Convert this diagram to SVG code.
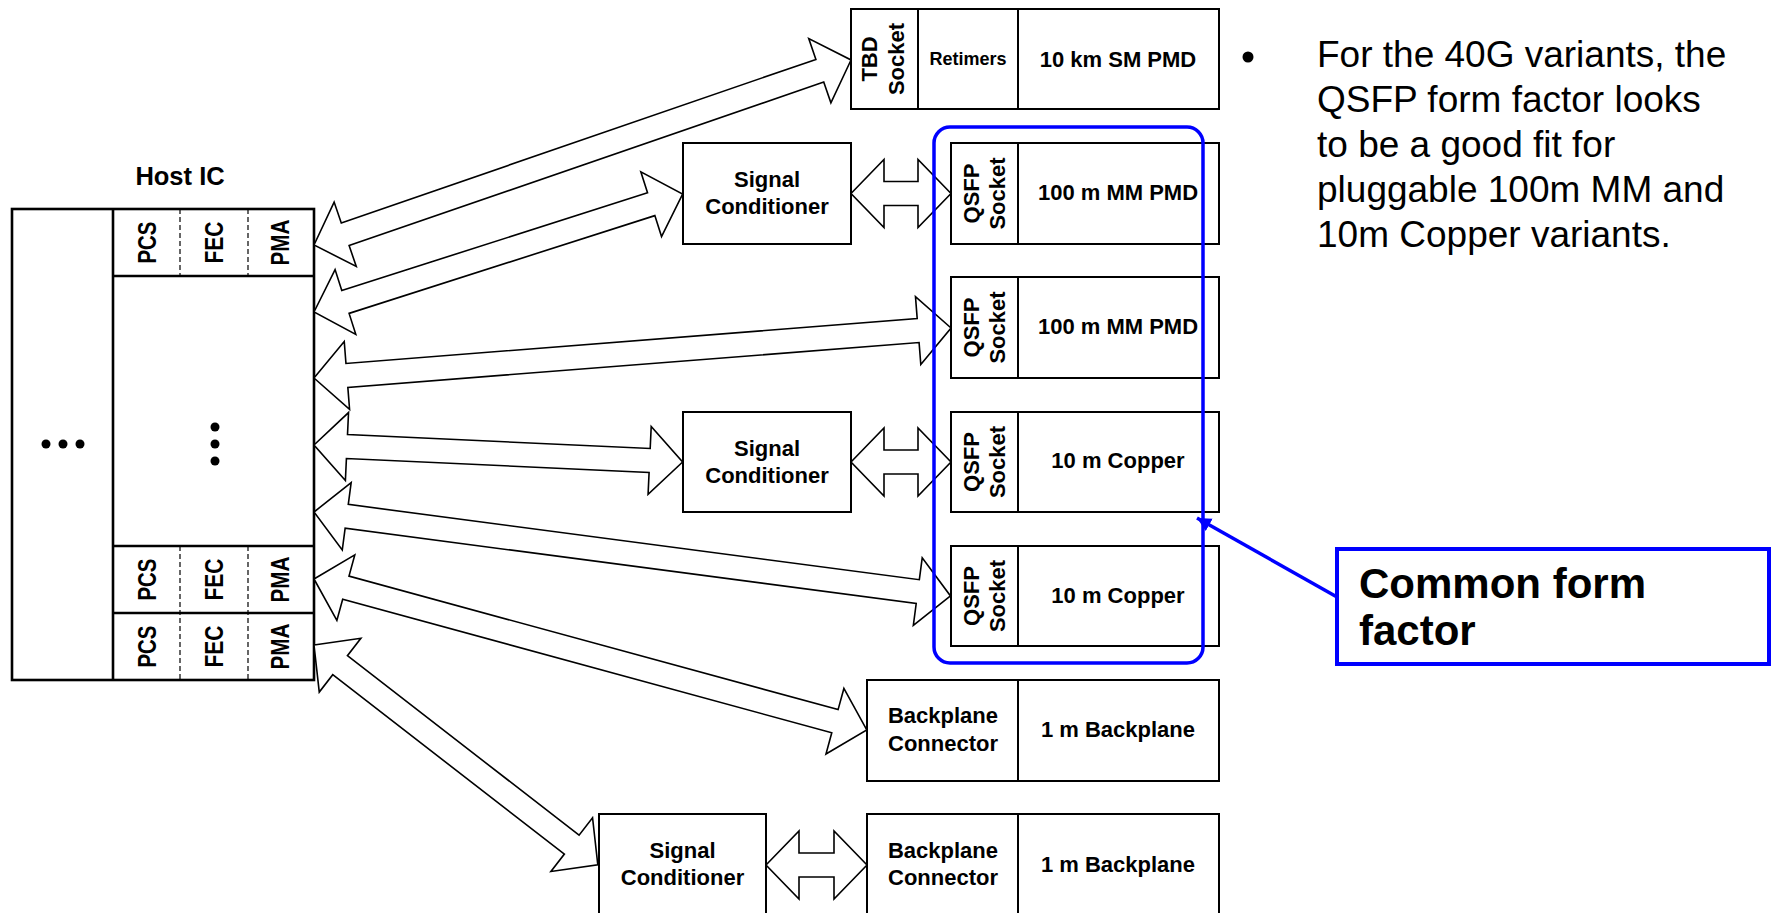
<svg xmlns="http://www.w3.org/2000/svg" width="1774" height="913" viewBox="0 0 1774 913">
<style>
text{font-family:"Liberation Sans",Arial,sans-serif;fill:#000}
.b{font-weight:bold}
.box{fill:#fff;stroke:#000;stroke-width:2}
.host{fill:#fff;stroke:#000;stroke-width:2.6}
.ln{stroke:#000;stroke-width:2}
.hl{stroke:#000;stroke-width:2.6}
.dash{stroke:#000;stroke-width:1.2;stroke-dasharray:5,3}
.arr{fill:#fff;stroke:#000;stroke-width:1.6;stroke-linejoin:miter}
.t22{font-size:22px;font-weight:bold;text-anchor:middle}
.t24{font-size:26px;font-weight:bold;text-anchor:middle}
.blue{fill:none;stroke:#0000ff;stroke-width:3.5}
</style>
<defs>
<marker id="bh" markerUnits="userSpaceOnUse" markerWidth="16" markerHeight="16" refX="14" refY="7" orient="auto">
<path d="M0,0 L14,7 L0,14 Z" fill="#0000ff"/>
</marker>
</defs>

<g id="host">
<text x="180" y="185" class="b" style="font-size:25.5px;text-anchor:middle">Host IC</text>
<rect x="12" y="209" width="302" height="471" class="host"/>
<line x1="113" y1="209" x2="113" y2="680" class="hl"/>
<line x1="113" y1="276" x2="314" y2="276" class="hl"/>
<line x1="113" y1="546" x2="314" y2="546" class="hl"/>
<line x1="113" y1="613" x2="314" y2="613" class="hl"/>
<line x1="180" y1="209" x2="180" y2="276" class="dash"/>
<line x1="248" y1="209" x2="248" y2="276" class="dash"/>
<line x1="180" y1="546" x2="180" y2="680" class="dash"/>
<line x1="248" y1="546" x2="248" y2="680" class="dash"/>
<circle cx="46" cy="444" r="4.5"/><circle cx="63" cy="444" r="4.5"/><circle cx="80" cy="444" r="4.5"/>
<circle cx="215" cy="427" r="4.5"/><circle cx="215" cy="444" r="4.5"/><circle cx="215" cy="461" r="4.5"/>
<g class="t24">
<text transform="translate(155.5,242.5) rotate(-90)" textLength="42" lengthAdjust="spacingAndGlyphs">PCS</text>
<text transform="translate(222.5,242.5) rotate(-90)" textLength="42" lengthAdjust="spacingAndGlyphs">FEC</text>
<text transform="translate(288.5,242.5) rotate(-90)" textLength="46" lengthAdjust="spacingAndGlyphs">PMA</text>
<text transform="translate(155.5,579.5) rotate(-90)" textLength="42" lengthAdjust="spacingAndGlyphs">PCS</text>
<text transform="translate(222.5,579.5) rotate(-90)" textLength="42" lengthAdjust="spacingAndGlyphs">FEC</text>
<text transform="translate(288.5,579.5) rotate(-90)" textLength="46" lengthAdjust="spacingAndGlyphs">PMA</text>
<text transform="translate(155.5,646.5) rotate(-90)" textLength="42" lengthAdjust="spacingAndGlyphs">PCS</text>
<text transform="translate(222.5,646.5) rotate(-90)" textLength="42" lengthAdjust="spacingAndGlyphs">FEC</text>
<text transform="translate(288.5,646.5) rotate(-90)" textLength="46" lengthAdjust="spacingAndGlyphs">PMA</text>
</g>
</g>

<g id="tbd">
<rect x="851" y="9" width="368" height="100" class="box"/>
<line x1="918" y1="9" x2="918" y2="109" class="ln"/>
<line x1="1018" y1="9" x2="1018" y2="109" class="ln"/>
<text transform="translate(877,59) rotate(-90)" class="t22">TBD</text>
<text transform="translate(904,59) rotate(-90)" class="t22">Socket</text>
<text x="968" y="65" class="b" style="font-size:18px;text-anchor:middle">Retimers</text>
<text x="1118" y="67" class="t22">10 km SM PMD</text>
</g>

<g id="sc1">
<rect x="683" y="143" width="168" height="101" class="box"/>
<text x="767" y="187" class="t22">Signal</text>
<text x="767" y="214" class="t22">Conditioner</text>
</g>
<g id="sc2">
<rect x="683" y="412" width="168" height="100" class="box"/>
<text x="767" y="456" class="t22">Signal</text>
<text x="767" y="483" class="t22">Conditioner</text>
</g>
<g id="sc3">
<rect x="599" y="814" width="167" height="110" class="box"/>
<text x="682.5" y="858" class="t22">Signal</text>
<text x="682.5" y="885" class="t22">Conditioner</text>
</g>

<g id="qsfp1">
<rect x="951" y="143" width="268" height="101" class="box"/>
<line x1="1018" y1="143" x2="1018" y2="244" class="ln"/>
<text transform="translate(979,193.5) rotate(-90)" class="t22">QSFP</text>
<text transform="translate(1005,193.5) rotate(-90)" class="t22">Socket</text>
<text x="1118" y="200" class="t22">100 m MM PMD</text>
</g>
<g id="qsfp2">
<rect x="951" y="277" width="268" height="101" class="box"/>
<line x1="1018" y1="277" x2="1018" y2="378" class="ln"/>
<text transform="translate(979,327.5) rotate(-90)" class="t22">QSFP</text>
<text transform="translate(1005,327.5) rotate(-90)" class="t22">Socket</text>
<text x="1118" y="334" class="t22">100 m MM PMD</text>
</g>
<g id="qsfp3">
<rect x="951" y="412" width="268" height="100" class="box"/>
<line x1="1018" y1="412" x2="1018" y2="512" class="ln"/>
<text transform="translate(979,462) rotate(-90)" class="t22">QSFP</text>
<text transform="translate(1005,462) rotate(-90)" class="t22">Socket</text>
<text x="1118" y="468" class="t22">10 m Copper</text>
</g>
<g id="qsfp4">
<rect x="951" y="546" width="268" height="100" class="box"/>
<line x1="1018" y1="546" x2="1018" y2="646" class="ln"/>
<text transform="translate(979,596) rotate(-90)" class="t22">QSFP</text>
<text transform="translate(1005,596) rotate(-90)" class="t22">Socket</text>
<text x="1118" y="603" class="t22">10 m Copper</text>
</g>

<g id="bp1">
<rect x="867" y="680" width="352" height="101" class="box"/>
<line x1="1018" y1="680" x2="1018" y2="781" class="ln"/>
<text x="943" y="723" class="t22">Backplane</text>
<text x="943" y="751" class="t22">Connector</text>
<text x="1118" y="737" class="t22">1 m Backplane</text>
</g>
<g id="bp2">
<rect x="867" y="814" width="352" height="110" class="box"/>
<line x1="1018" y1="814" x2="1018" y2="924" class="ln"/>
<text x="943" y="858" class="t22">Backplane</text>
<text x="943" y="885" class="t22">Connector</text>
<text x="1118" y="872" class="t22">1 m Backplane</text>
</g>

<g id="connectors">
<polygon class="arr" transform="translate(314,245) rotate(-19.01)" points="0,0 33,-34 33,-12 535,-12 535,-34 568,0 535,34 535,12 33,12 33,34"/>
<polygon class="arr" transform="translate(314,312) rotate(-17.73)" points="0,0 33,-34 33,-12 354,-12 354,-34 387,0 354,34 354,12 33,12 33,34"/>
<polygon class="arr" transform="translate(314,378) rotate(-4.49)" points="0,0 33,-34 33,-12 606,-12 606,-34 639,0 606,34 606,12 33,12 33,34"/>
<polygon class="arr" transform="translate(314,445) rotate(2.64)" points="0,0 33,-34 33,-12 336,-12 336,-34 369,0 336,34 336,12 33,12 33,34"/>
<polygon class="arr" transform="translate(314,512) rotate(7.51)" points="0,0 33,-34 33,-12 609,-12 609,-34 642,0 609,34 609,12 33,12 33,34"/>
<polygon class="arr" transform="translate(314,579) rotate(15.27)" points="0,0 33,-34 33,-12 540,-12 540,-34 573,0 540,34 540,12 33,12 33,34"/>
<polygon class="arr" transform="translate(314,645) rotate(37.76)" points="0,0 33,-34 33,-12 326,-12 326,-34 359,0 326,34 326,12 33,12 33,34"/>
<polygon class="arr" transform="translate(851,193.5)" points="0,0 33,-34 33,-12 67,-12 67,-34 100,0 67,34 67,12 33,12 33,34"/>
<polygon class="arr" transform="translate(851,462)" points="0,0 33,-34 33,-12 67,-12 67,-34 100,0 67,34 67,12 33,12 33,34"/>
<polygon class="arr" transform="translate(766,865)" points="0,0 33,-34 33,-12 68,-12 68,-34 101,0 68,34 68,12 33,12 33,34"/>
</g>

<g id="common-form-factor">
<rect x="934" y="127" width="269" height="536" rx="16" class="blue"/>
<line x1="1337" y1="597" x2="1197" y2="518" stroke="#0000ff" stroke-width="3.5" marker-end="url(#bh)"/>
<rect x="1337" y="549" width="432" height="115" fill="#fff" stroke="#0000ff" stroke-width="4"/>
<text x="1359" y="598" class="b" style="font-size:42px">Common form</text>
<text x="1359" y="645" class="b" style="font-size:42px">factor</text>
</g>

<g id="note">
<circle cx="1248" cy="57" r="5.5"/>
<g style="font-size:37px">
<text x="1317" y="67">For the 40G variants, the</text>
<text x="1317" y="112">QSFP form factor looks</text>
<text x="1317" y="157">to be a good fit for</text>
<text x="1317" y="202">pluggable 100m MM and</text>
<text x="1317" y="247">10m Copper variants.</text>
</g>
</g>
</svg>
